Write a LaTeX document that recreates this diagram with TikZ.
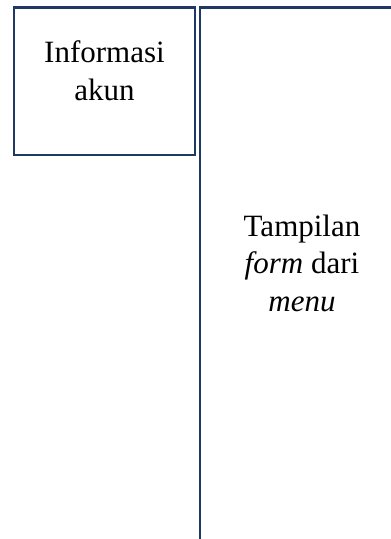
\documentclass[tikz,border=0pt]{standalone}
\usepackage{fontspec}
\setmainfont{Liberation Serif}
\definecolor{navy}{HTML}{1F3864}
\begin{document}
\begin{tikzpicture}[x=1pt,y=1pt,
  frame/.style={draw=navy,line width=2.4pt},
  label/.style={align=center,inner sep=0pt,font=\fontsize{31}{37.5}\selectfont}]
\useasboundingbox (0,0) rectangle (391,539);
\clip (0,0) rectangle (391,539);
\fill[white] (0,0) rectangle (391,539);
% left box
\draw[frame] (14,531.5) rectangle (195,384);
\node[label] (info) at (104.5,468.5) {Informasi\\akun};
% right box (open at right and bottom)
\coordinate (rbr) at (410,-20);
\draw[frame] (rbr |- 0,531.5) -- (200,531.5) -- (200,-20);
\node[label] (tamp) at (302,276) {Tampilan\\\textit{form} dari\\\textit{menu}};
\end{tikzpicture}
\end{document}
